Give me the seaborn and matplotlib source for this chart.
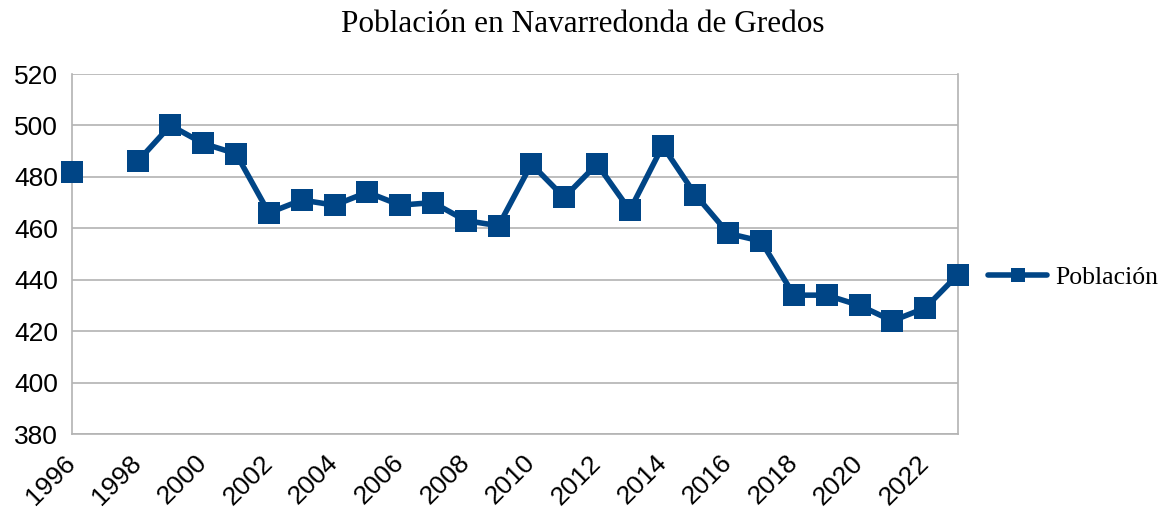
import numpy as np
import pandas as pd
import seaborn as sns
import matplotlib.pyplot as plt
from matplotlib.lines import Line2D

# datos (1997 sin dato)
ANIOS = list(range(1996, 2024))
POBLACION = [482, np.nan, 486, 500, 493, 489, 466, 471, 469, 474, 469, 470, 463, 461,
             485, 472, 485, 467, 492, 473, 458, 455, 434, 434, 430, 424, 429, 442]
TITULO = 'Población en Navarredonda de Gredos'
SERIE = 'Población'

AZUL = '#004586'
GRIS = '#b3b3b3'

sns.set_style('white')
plt.rcParams['font.family'] = ['Liberation Sans', 'DejaVu Sans']
plt.rcParams['text.color'] = 'black'

df = pd.DataFrame({'anio': ANIOS, 'valor': POBLACION})
# tramos separados por los huecos, para no unir los puntos a través de ellos
df['tramo'] = df['valor'].isna().cumsum()
df = df.dropna()

fig = plt.figure(figsize=(11.65, 5.09), dpi=100)
ax = fig.add_axes([0.0618, 0.1473, 0.7605, 0.7073])

sns.lineplot(data=df, x='anio', y='valor', units='tramo', estimator=None,
             color=AZUL, linewidth=4, marker='s', markersize=16,
             markeredgewidth=0, ax=ax, legend=False, zorder=3)
for ln in ax.lines:
    ln.set_clip_on(False)

ax.set_xlim(1996, 2023)
ax.set_ylim(380, 520)
ax.set_yticks(range(380, 521, 20))
ax.set_xticks(range(1996, 2024))
ax.set_xticklabels([str(a) if (a - 1996) % 2 == 0 and a < 2023 else '' for a in ANIOS],
                   rotation=45, ha='right', va='center', rotation_mode='anchor')
ax.set_xlabel('')
ax.set_ylabel('')

ax.grid(axis='y', color=GRIS, linewidth=1.2)
ax.grid(axis='x', visible=False)
for lado in ['left', 'bottom', 'right']:
    ax.spines[lado].set_color(GRIS)
    ax.spines[lado].set_linewidth(1.2)
ax.spines['top'].set_visible(False)
ax.tick_params(axis='both', which='major', length=8, width=1.2, color=GRIS,
               labelsize=19, labelcolor='black', direction='out')
ax.tick_params(axis='x', pad=10)
ax.tick_params(axis='y', pad=2)

fig.suptitle(TITULO, x=0.5, y=0.98, fontsize=22.5, color='black',
             family=['Liberation Serif'])

handle = Line2D([], [], color=AZUL, linewidth=4, marker='s', markersize=10, markeredgewidth=0)
leg = ax.legend([handle], [SERIE], loc='center left', bbox_to_anchor=(1.034, 0.436),
                frameon=False, handlelength=2.3, handletextpad=0.3,
                borderpad=0, borderaxespad=0,
                prop={'family': 'Liberation Serif', 'size': 18.5})
for t in leg.get_texts():
    t.set_color('black')

fig.savefig('out.png', dpi=100)
